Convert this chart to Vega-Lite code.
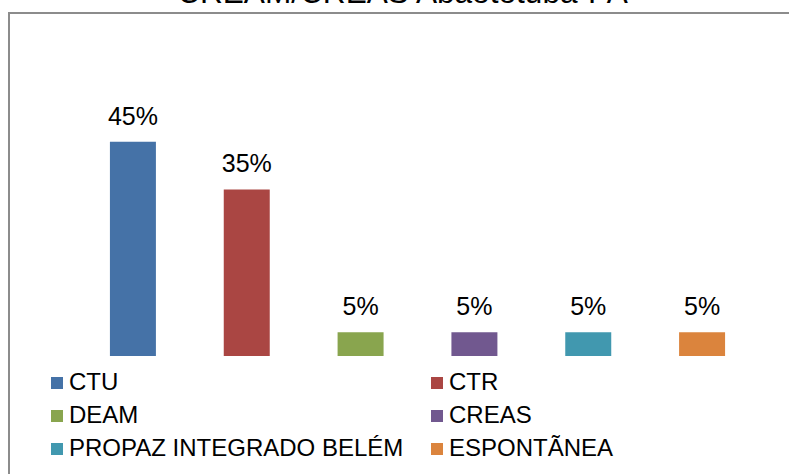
{
  "$schema": "https://vega.github.io/schema/vega-lite/v6.json",
  "width": 781,
  "height": 462,
  "autosize": {"type": "none"},
  "padding": {"left": 9, "top": 13, "right": -1, "bottom": -1},
  "background": "white",
  "title": {
    "text": "CREAM/CREAS Abaetetuba-PA",
    "fontSize": 31.6,
    "font": "Liberation Sans",
    "fontWeight": "normal",
    "color": "#000000",
    "anchor": "middle",
    "baseline": "alphabetic",
    "offset": 7,
    "dx": 3,
    "dy": 29
  },
  "data": {
    "values": [
      {"local": "CTU", "value": 0.45},
      {"local": "CTR", "value": 0.35},
      {"local": "DEAM", "value": 0.05},
      {"local": "CREAS", "value": 0.05},
      {"local": "PROPAZ INTEGRADO BELÉM", "value": 0.05},
      {"local": "ESPONTÃNEA", "value": 0.05}
    ]
  },
  "encoding": {
    "x": {
      "field": "local",
      "type": "nominal",
      "sort": null,
      "axis": null,
      "scale": {"range": [67, 750], "paddingInner": 0.596, "paddingOuter": 0.298}
    },
    "y": {
      "field": "value",
      "type": "quantitative",
      "axis": null,
      "scale": {"domain": [0, 0.5], "range": [343, 105], "nice": false, "zero": true}
    }
  },
  "layer": [
    {
      "mark": {"type": "bar"},
      "encoding": {
        "color": {
          "field": "local",
          "type": "nominal",
          "sort": null,
          "scale": {
            "domain": ["CTU", "CTR", "DEAM", "CREAS", "PROPAZ INTEGRADO BELÉM", "ESPONTÃNEA"],
            "range": ["#4572A7", "#AA4643", "#89A54E", "#71588F", "#4198AF", "#DB843D"]
          },
          "legend": {
            "orient": "none",
            "legendX": 36,
            "legendY": 358,
            "direction": "horizontal",
            "columns": 2,
            "columnPadding": 21,
            "rowPadding": 9,
            "symbolType": "square",
            "symbolSize": 144,
            "symbolStrokeWidth": 0,
            "symbolOpacity": 1,
            "labelFontSize": 24,
            "labelFont": "Liberation Sans",
            "labelColor": "#000000",
            "labelLimit": 600,
            "labelOffset": 0,
            "title": null,
            "padding": 0
          }
        }
      }
    },
    {
      "mark": {"type": "text", "baseline": "alphabetic", "dy": -17, "fontSize": 25, "font": "Liberation Sans", "color": "#000000"},
      "encoding": {
        "text": {"field": "value", "type": "quantitative", "format": ".0%"}
      }
    }
  ],
  "config": {
    "view": {"stroke": "#8c8c8c", "strokeWidth": 2},
    "font": "Liberation Sans"
  }
}
